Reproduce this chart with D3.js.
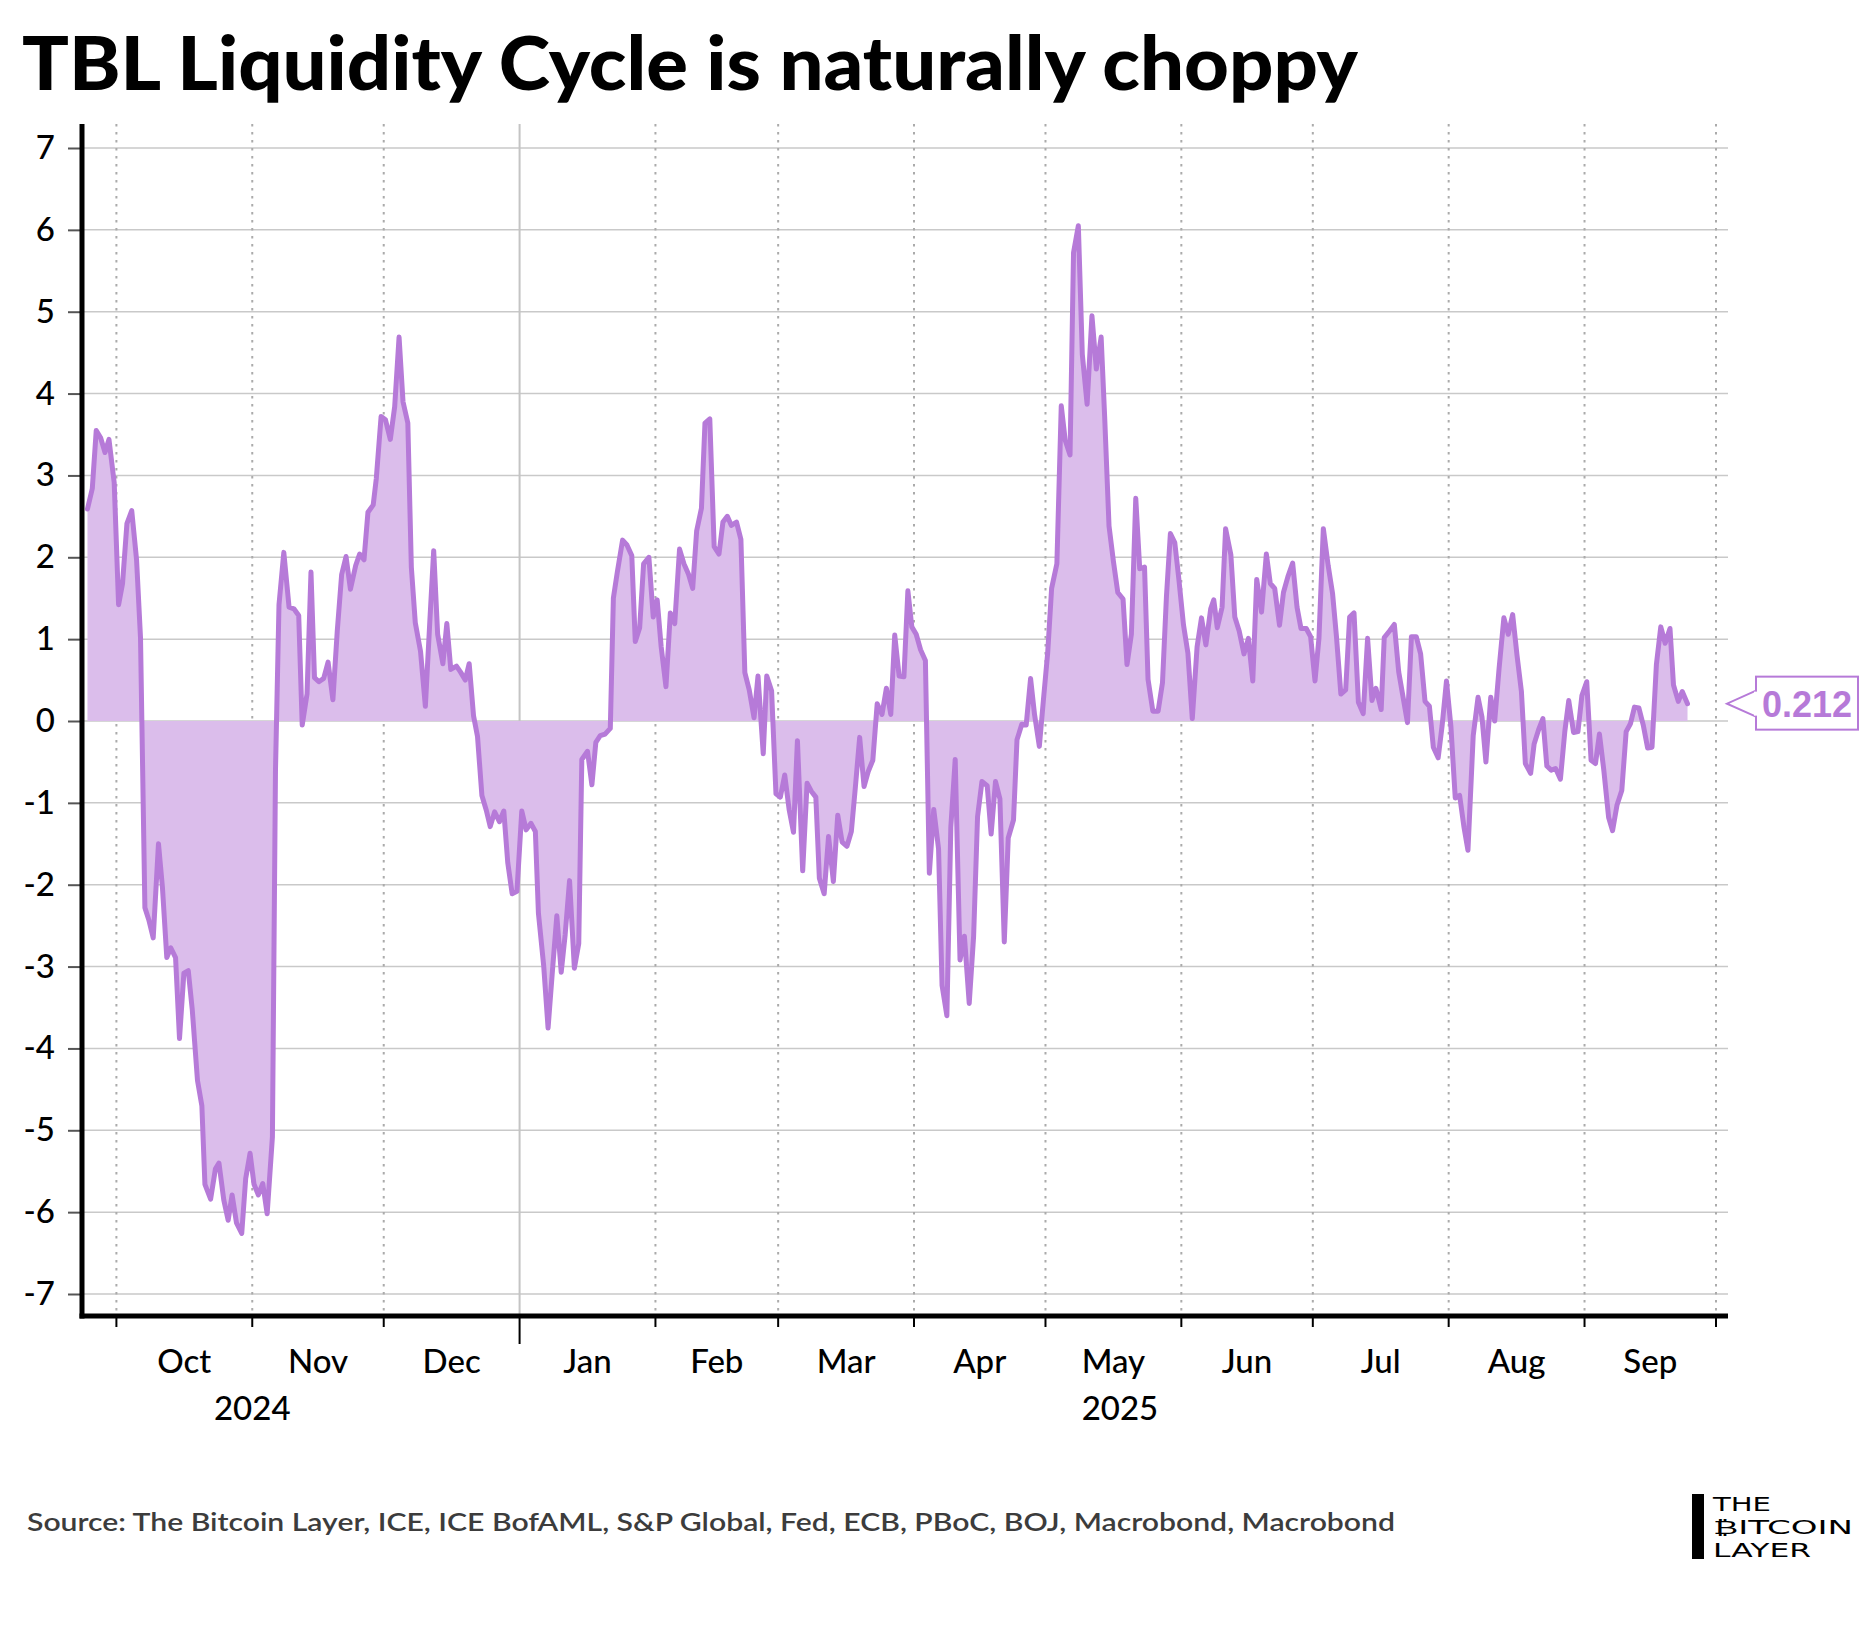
<!DOCTYPE html>
<html>
<head>
<meta charset="utf-8">
<script src="https://cdn.jsdelivr.net/npm/d3@7"></script>
<style>
  body { margin: 0; background: #fff; }
  svg { display: block; }
</style>
</head>
<body>
<svg id="chart"></svg>
<script>
const width = 1875;
const height = 1625;

// days counted from 1 Oct 2024
const dayOffset = [
  -6.6, -5.5, -4.6, -3.6, -2.6, -1.7, -0.5, 0.5, 1.4, 2.4, 3.5, 4.6, 5.5, 6.5, 7.4, 8.4, 9.6, 10.5,
  11.5, 12.4, 13.5, 14.4, 15.4, 16.4, 17.3, 18.5, 19.5, 20.2, 21.5, 22.6, 23.4, 24.5, 25.5, 26.4,
  27.4, 28.6, 29.5, 30.5, 31.4, 32.4, 33.4, 34.4, 35.6, 36.3, 37.1, 38.2, 39.4, 40.5, 41.6, 42.4,
  43.5, 44.4, 45.2, 46.2, 47.3, 48.3, 49.4, 50.4, 51.4, 52.4, 53.4, 54.6, 55.5, 56.5, 57.4, 58.6,
  59.3, 60.4, 61.4, 62.5, 63.5, 64.5, 65.4, 66.5, 67.3, 68.2, 69.4, 70.5, 71.5, 72.4, 73.3, 74.5,
  75.4, 76.3, 77.6, 78.5, 79.6, 80.5, 81.5, 82.4, 83.4, 84.4, 85.3, 86.3, 87.4, 88.4, 89.3, 90.3,
  91.4, 92.5, 93.5, 94.6, 95.6, 96.3, 97.5, 98.5, 99.5, 100.5, 101.5, 102.4, 103.4, 104.5, 105.5,
  106.2, 107.5, 108.5, 109.4, 110.4, 111.5, 112.7, 113.4, 114.3, 115.5, 116.5, 117.6, 118.4, 119.4,
  120.3, 121.5, 122.5, 123.4, 124.3, 125.4, 126.4, 127.4, 128.5, 129.5, 130.5, 131.5, 132.4, 133.5,
  134.3, 135.4, 136.4, 137.5, 138.4, 139.4, 140.3, 141.5, 142.5, 143.4, 144.4, 145.5, 146.4, 147.6,
  148.4, 149.5, 150.5, 151.5, 152.5, 153.5, 154.5, 155.4, 156.6, 157.6, 158.6, 159.6, 160.4, 161.5,
  162.5, 163.6, 164.6, 165.6, 166.7, 167.7, 168.6, 169.6, 170.6, 171.6, 172.6, 173.6, 174.7, 175.7,
  176.7, 177.6, 178.6, 179.7, 180.6, 181.5, 182.5, 183.5, 184.6, 185.5, 186.5, 187.6, 188.4, 189.5,
  190.4, 191.4, 192.5, 193.5, 194.6, 195.6, 196.5, 197.5, 198.7, 199.6, 200.6, 201.6, 202.6, 203.5,
  204.7, 205.5, 206.6, 207.6, 208.6, 209.5, 210.6, 211.5, 212.5, 213.4, 214.6, 215.6, 216.5, 217.6,
  218.4, 219.5, 220.4, 221.5, 222.6, 223.6, 224.7, 225.5, 226.5, 227.5, 228.5, 229.7, 230.6, 231.6,
  232.6, 233.5, 234.6, 235.4, 236.5, 237.7, 238.7, 239.6, 240.5, 241.5, 242.4, 243.5, 244.5, 245.5,
  246.6, 247.6, 248.6, 249.7, 250.4, 251.2, 252.3, 253.1, 254.3, 255.2, 256.2, 257.3, 258.3, 259.3,
  260.2, 261.3, 262.4, 263.3, 264.3, 265.4, 266.3, 267.3, 268.4, 269.4, 270.3, 271.5, 272.5, 273.5,
  274.4, 275.4, 276.5, 277.5, 278.4, 279.4, 280.5, 281.4, 282.4, 283.4, 284.5, 285.5, 286.5, 287.4,
  288.6, 289.3, 290.5, 291.6, 292.6, 293.6, 294.6, 295.5, 296.6, 297.6, 298.6, 299.6, 300.5, 301.6,
  302.5, 303.5, 304.5, 305.5, 306.5, 307.5, 308.4, 309.6, 310.7, 311.6, 312.5, 313.6, 314.5, 315.5,
  316.6, 317.6, 318.6, 319.6, 320.6, 321.5, 322.7, 323.5, 324.5, 325.5, 326.4, 327.4, 328.4, 329.5,
  330.5, 331.4, 332.5, 333.5, 334.4, 335.5, 336.5, 337.5, 338.4, 339.4, 340.5, 341.4, 342.4, 343.5,
  344.5, 345.5, 346.4, 347.4, 348.4, 349.4, 350.4, 351.4, 352.4, 353.4, 354.5, 355.3, 356.4, 357.3,
  358.5
];

const tblCycle = [
  2.59, 2.84, 3.55, 3.46, 3.28, 3.44, 2.91, 1.42, 1.68, 2.41, 2.57, 1.97, 1.02, -2.28, -2.43, -2.65, -1.50, -2.03,
  -2.89, -2.77, -2.89, -3.88, -3.08, -3.05, -3.52, -4.39, -4.70, -5.66, -5.84, -5.47, -5.40, -5.85, -6.10, -5.79,
  -6.13, -6.26, -5.59, -5.28, -5.66, -5.79, -5.65, -6.02, -5.08, -0.60, 1.42, 2.06, 1.39, 1.37, 1.29, -0.05,
  0.33, 1.82, 0.53, 0.48, 0.52, 0.72, 0.26, 1.10, 1.79, 2.01, 1.61, 1.90, 2.04, 1.97, 2.55, 2.64,
  2.96, 3.72, 3.68, 3.44, 3.84, 4.69, 3.90, 3.64, 1.88, 1.20, 0.85, 0.18, 1.20, 2.08, 1.06, 0.70,
  1.19, 0.63, 0.67, 0.60, 0.50, 0.70, 0.06, -0.19, -0.91, -1.09, -1.29, -1.11, -1.23, -1.10, -1.73, -2.11,
  -2.08, -1.10, -1.33, -1.25, -1.35, -2.35, -2.99, -3.75, -3.05, -2.38, -3.07, -2.61, -1.95, -3.02, -2.72,
  -0.47, -0.37, -0.78, -0.26, -0.18, -0.16, -0.09, 1.50, 1.82, 2.21, 2.15, 2.02, 0.97, 1.14,
  1.92, 2.00, 1.27, 1.48, 0.91, 0.42, 1.32, 1.19, 2.10, 1.92, 1.80, 1.62, 2.32, 2.60,
  3.64, 3.69, 2.13, 2.04, 2.43, 2.50, 2.39, 2.43, 2.22, 0.59, 0.38, 0.04, 0.55, -0.40,
  0.55, 0.37, -0.89, -0.93, -0.66, -1.08, -1.36, -0.24, -1.83, -0.76, -0.86, -0.93, -1.92, -2.11,
  -1.41, -1.96, -1.15, -1.48, -1.53, -1.35, -0.82, -0.20, -0.80, -0.61, -0.48, 0.21, 0.08, 0.40,
  0.08, 1.05, 0.55, 0.54, 1.59, 1.15, 1.06, 0.87, 0.74, -1.86, -1.08, -1.56, -3.23, -3.60,
  -1.30, -0.47, -2.92, -2.63, -3.45, -2.63, -1.17, -0.74, -0.79, -1.38, -0.74, -0.95, -2.70, -1.43,
  -1.21, -0.23, -0.04, -0.05, 0.52, 0.08, -0.31, 0.24, 0.83, 1.62, 1.92, 3.85, 3.43, 3.25,
  5.72, 6.05, 4.48, 3.87, 4.95, 4.30, 4.69, 3.72, 2.38, 1.95, 1.57, 1.49, 0.69, 1.06,
  2.72, 1.86, 1.88, 0.51, 0.12, 0.12, 0.47, 1.52, 2.29, 2.18, 1.75, 1.17, 0.83, 0.03,
  0.91, 1.26, 0.93, 1.37, 1.48, 1.14, 1.39, 2.35, 2.03, 1.27, 1.10, 0.82, 1.01, 0.49,
  1.73, 1.33, 2.04, 1.68, 1.62, 1.17, 1.57, 1.76, 1.93, 1.39, 1.13, 1.13, 1.03, 0.49,
  1.01, 2.35, 1.90, 1.56, 1.03, 0.33, 0.38, 1.27, 1.32, 0.23, 0.09, 1.01, 0.25, 0.40,
  0.14, 1.02, 1.10, 1.18, 0.60, 0.29, -0.02, 1.03, 1.03, 0.82, 0.24, 0.18, -0.32, -0.45,
  -0.06, 0.49, -0.06, -0.94, -0.91, -1.30, -1.58, -0.18, 0.29, 0.05, -0.50, 0.29, 0.00, 0.64,
  1.26, 1.06, 1.30, 0.80, 0.36, -0.52, -0.64, -0.28, -0.11, 0.03, -0.55, -0.60, -0.58, -0.71,
  -0.13, 0.25, -0.14, -0.13, 0.31, 0.48, -0.48, -0.52, -0.16, -0.60, -1.18, -1.34, -1.03, -0.85,
  -0.13, -0.03, 0.17, 0.16, -0.05, -0.33, -0.32, 0.69, 1.15, 0.95, 1.13, 0.44, 0.24, 0.36,
  0.212
];

const yTicks = [-7, -6, -5, -4, -3, -2, -1, 0, 1, 2, 3, 4, 5, 6, 7];
const monthNames = ["Oct", "Nov", "Dec", "Jan", "Feb", "Mar", "Apr", "May", "Jun", "Jul", "Aug", "Sep"];
const yearNames = ["2024", "2025"];
const yearAnchor = [Date.UTC(2024, 10, 1), Date.UTC(2025, 4, 18)];

const title = "TBL Liquidity Cycle is naturally choppy";
const source = "Source: The Bitcoin Layer, ICE, ICE BofAML, S&P Global, Fed, ECB, PBoC, BOJ, Macrobond, Macrobond";
const logoLines = ["THE", "\u20BFITCOIN", "LAYER"];

const lineColor = "#b67ad8";
const fillColor = "#dbbdeb";

const origin = Date.UTC(2024, 9, 1);
const data = dayOffset.map((d, i) => ({ date: new Date(origin + d * 864e5), v: tblCycle[i] }));

const plot = { left: 82, right: 1728, top: 124, bottom: 1316 };

const svg = d3.select('#chart')
    .attr('width', width)
    .attr('height', height)
    .style('font-family', 'Lato, "Open Sans", sans-serif');

const x = d3.scaleUtc()
    .domain([new Date(Date.UTC(2024, 9, 1)), new Date(Date.UTC(2025, 9, 1))])
    .range([116.4, 1716]);

const y = d3.scaleLinear()
    .domain([-7, 7])
    .range([1294, 148]);

// title
svg.append('text')
    .attr('x', 22)
    .attr('y', 90)
    .attr('textLength', 1336)
    .attr('lengthAdjust', 'spacingAndGlyphs')
    .style('font-size', '75px')
    .style('font-weight', 900)
    .style('fill', '#000')
    .text(title);

// horizontal grid
svg.append('g')
    .selectAll('line')
    .data(yTicks)
    .enter().append('line')
    .attr('x1', plot.left).attr('x2', plot.right)
    .attr('y1', d => y(d)).attr('y2', d => y(d))
    .style('stroke', '#c9c9c9')
    .style('stroke-width', 1.5);

// month boundaries
const months = d3.utcMonth.range(x.domain()[0], d3.utcDay.offset(x.domain()[1], 1));
svg.append('g')
    .selectAll('line')
    .data(months)
    .enter().append('line')
    .attr('x1', d => x(d)).attr('x2', d => x(d))
    .attr('y1', plot.top).attr('y2', plot.bottom)
    .style('stroke', d => d.getUTCMonth() === 0 ? '#c4c4c4' : '#ababab')
    .style('stroke-width', 2)
    .style('stroke-dasharray', d => d.getUTCMonth() === 0 ? null : '2.5,5.5');

// area + line
const area = d3.area()
    .x(d => x(d.date))
    .y0(y(0))
    .y1(d => y(d.v));

const line = d3.line()
    .x(d => x(d.date))
    .y(d => y(d.v));

svg.append('path')
    .datum(data)
    .attr('d', area)
    .style('fill', fillColor);

svg.append('path')
    .datum(data)
    .attr('d', line)
    .style('fill', 'none')
    .style('stroke', lineColor)
    .style('stroke-width', 5)
    .style('stroke-linejoin', 'round')
    .style('stroke-linecap', 'round');

// y axis
const yAxis = svg.append('g')
    .attr('transform', `translate(${plot.left},0)`)
    .call(d3.axisLeft(y).tickValues(yTicks).tickSize(14).tickPadding(13).tickFormat(d => String(d)));
yAxis.select('.domain').remove();
yAxis.selectAll('.tick line').style('stroke', '#555').style('stroke-width', 2);
yAxis.selectAll('.tick text')
    .style('font-family', 'Lato, sans-serif')
    .style('font-size', '33px')
    .style('font-weight', 500)
    .style('fill', '#000');

// x axis ticks
svg.append('g')
    .selectAll('line')
    .data(months)
    .enter().append('line')
    .attr('x1', d => x(d)).attr('x2', d => x(d))
    .attr('y1', plot.bottom)
    .attr('y2', d => d.getUTCMonth() === 0 ? plot.bottom + 28 : plot.bottom + 11)
    .style('stroke', '#000')
    .style('stroke-width', 2);

// month labels, centred in each month
svg.append('g')
    .selectAll('text')
    .data(months.slice(0, 12))
    .enter().append('text')
    .attr('x', d => (x(d) + x(d3.utcMonth.offset(d, 1))) / 2)
    .attr('y', 1373)
    .attr('text-anchor', 'middle')
    .style('font-size', '33px')
    .style('font-weight', 500)
    .style('fill', '#000')
    .text((d, i) => monthNames[i]);

svg.append('g')
    .selectAll('text')
    .data(yearNames)
    .enter().append('text')
    .attr('x', (d, i) => x(new Date(yearAnchor[i])))
    .attr('y', 1420)
    .attr('text-anchor', 'middle')
    .style('font-size', '33px')
    .style('font-weight', 500)
    .style('fill', '#000')
    .text(d => d);

// axis lines
svg.append('line')
    .attr('x1', plot.left).attr('x2', plot.left)
    .attr('y1', plot.top).attr('y2', plot.bottom + 2.5)
    .style('stroke', '#000').style('stroke-width', 5);
svg.append('line')
    .attr('x1', plot.left - 2.5).attr('x2', plot.right)
    .attr('y1', plot.bottom).attr('y2', plot.bottom)
    .style('stroke', '#000').style('stroke-width', 5);

// last value callout
const last = data[data.length - 1];
const ly = y(last.v);
const callout = svg.append('g');
callout.append('path')
    .attr('d', `M1756,${ly - 13} L1727,${ly} L1756,${ly + 13}`)
    .style('fill', '#fff')
    .style('stroke', lineColor)
    .style('stroke-width', 2);
callout.append('rect')
    .attr('x', 1756).attr('y', ly - 27)
    .attr('width', 102).attr('height', 53)
    .style('fill', '#fff')
    .style('stroke', lineColor)
    .style('stroke-width', 2);
callout.append('rect')
    .attr('x', 1754).attr('y', ly - 12)
    .attr('width', 4).attr('height', 24)
    .style('fill', '#fff');
callout.append('text')
    .attr('x', 1807).attr('y', ly + 13)
    .attr('text-anchor', 'middle')
    .style('font-family', '"Liberation Sans", Arial, sans-serif')
    .style('font-size', '36px')
    .style('font-weight', 700)
    .style('fill', lineColor)
    .text(d3.format('.3f')(last.v));

// source
svg.append('text')
    .attr('x', 27)
    .attr('y', 1531)
    .attr('textLength', 1368)
    .attr('lengthAdjust', 'spacingAndGlyphs')
    .style('font-size', '25px')
    .style('font-weight', 600)
    .style('fill', '#3c3c3c')
    .text(source);

// logo
svg.append('rect')
    .attr('x', 1692).attr('y', 1494)
    .attr('width', 12).attr('height', 65)
    .style('fill', '#000');
const logoWidths = [58, 140, 98];
svg.append('g')
    .selectAll('text')
    .data(logoLines)
    .enter().append('text')
    .attr('x', 1713)
    .attr('y', (d, i) => 1511 + i * 23)
    .attr('textLength', (d, i) => logoWidths[i])
    .attr('lengthAdjust', 'spacingAndGlyphs')
    .style('font-family', '"DejaVu Sans", sans-serif')
    .style('font-size', '19px')
    .style('font-weight', 400)
    .style('fill', '#000')
    .text(d => d);
</script>
</body>
</html>
